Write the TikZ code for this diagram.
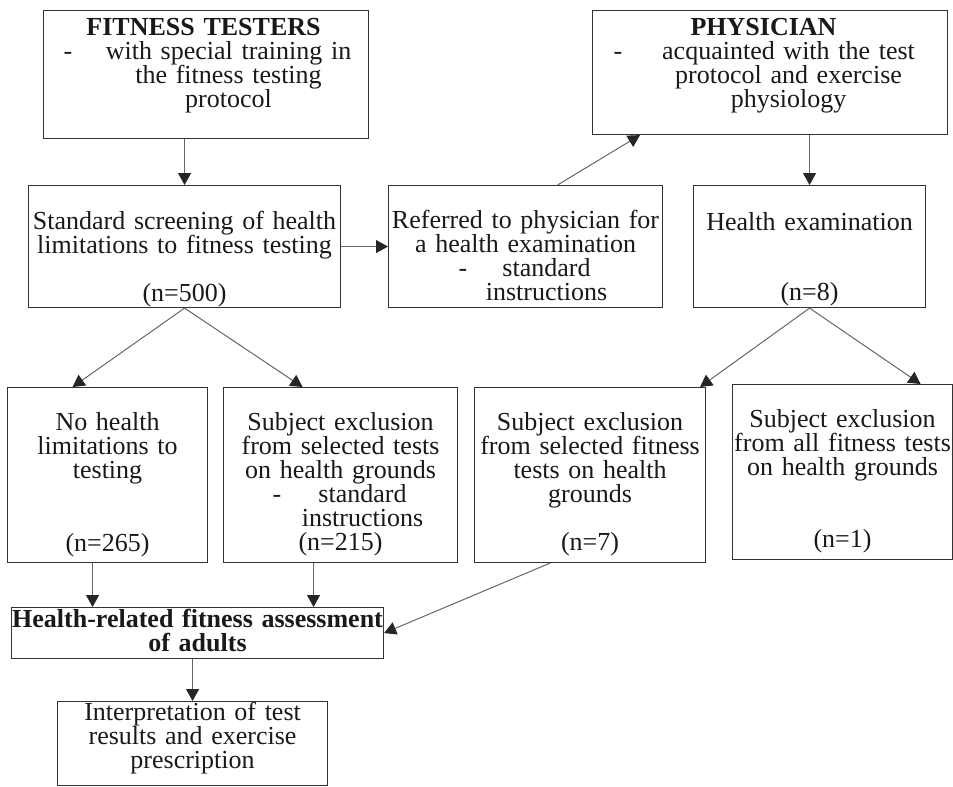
\documentclass[tikz,border=0pt]{standalone}
\usepackage{fontspec}
\setmainfont{Liberation Serif}
\usepackage{tikz}
\usetikzlibrary{arrows.meta, positioning, calc}
% one line of a box, text centred at #1 from the left edge
\newcommand{\textrow}[2]{\makebox[\linewidth][l]{\rlap{\hspace*{#1pt}\makebox[0pt]{#2}}}}
% same, with a dash at #1 from the left edge
\newcommand{\dashrow}[3]{\makebox[\linewidth][l]{\rlap{\hspace*{#1pt}-}\rlap{\hspace*{#2pt}\makebox[0pt]{#3}}}}

\begin{document}
\begin{tikzpicture}[
    x=1pt, y=-1pt,
    box/.style={rectangle, draw=black!80, line width=1.1pt, inner sep=0pt, align=center, anchor=north west, text=black!90,
        font={\fontsize{26}{24}\selectfont\lineskiplimit=-100pt}},
    arrow/.style={-{Triangle[length=12pt, width=13pt, color=black!85]}, draw=black!60, line width=1pt}
]
\useasboundingbox (0,0) rectangle (953,787);

% Nodes
\node (testers) [box, text width=325pt, text height=25pt, text depth=103pt] at (43,10)
    {\textrow{160}{\textbf{FITNESS TESTERS}}\\ \dashrow{20}{185}{with special training in}\\ \textrow{185}{the fitness testing}\\ \textrow{185}{protocol}};
\node (phys) [box, text width=355pt, text height=25pt, text depth=99pt] at (592,10)
    {\textrow{171}{\textbf{PHYSICIAN}}\\ \dashrow{21}{196}{acquainted with the test}\\ \textrow{196}{protocol and exercise}\\ \textrow{196}{physiology}};
\node (screen) [box, text width=312pt, text height=44pt, text depth=78pt] at (28,185)
    {Standard screening of health\\ limitations to fitness testing\\[24pt] (n=500)};
\node (refer) [box, text width=274pt, text height=43pt, text depth=79pt] at (388,185)
    {Referred to physician for\\ a health examination\\ \dashrow{70}{158}{standard}\\ \textrow{158}{instructions}};
\node (exam) [box, text width=232pt, text height=45pt, text depth=77pt] at (693,185)
    {Health examination\\[46pt] (n=8)};
\node (nolim) [box, text width=200pt, text height=43pt, text depth=132pt] at (7,387)
    {No health\\ limitations to\\ testing\\[49pt] (n=265)};
\node (exsel) [box, text width=234pt, text height=43pt, text depth=132pt] at (223,387)
    {Subject exclusion\\ from selected tests\\ on health grounds\\ \dashrow{49}{139}{standard}\\ \textrow{139}{instructions}\\ (n=215)};
\node (exfit) [box, text width=231pt, text height=43pt, text depth=132pt] at (474,387)
    {Subject exclusion\\ from selected fitness\\ tests on health\\ grounds\\[24pt] (n=7)};
\node (exall) [box, text width=220pt, text height=43pt, text depth=132pt] at (732,384)
    {Subject exclusion\\ from all fitness tests\\ on health grounds\\[48pt] (n=1)};
\node (hra) [box, text width=372pt, text height=20pt, text depth=31pt] at (11,607)
    {\textbf{Health-related fitness assessment}\\ \textbf{of adults}};
\node (interp) [box, text width=270pt, text height=19pt, text depth=65pt] at (57,701)
    {Interpretation of test\\ results and exercise\\ prescription};

% Arrows
\draw [arrow] (screen.north |- testers.south) -- (screen.north);
\draw [arrow] (exam.north |- phys.south) -- (exam.north);
\draw [arrow] (screen.east) -- (refer.west);
\draw [arrow] ([xshift=32pt]refer.north) -- ([xshift=48pt]phys.south west);
\draw [arrow] (screen.south) -- ([xshift=-35pt]nolim.north);
\draw [arrow] (screen.south) -- ([xshift=-38pt]exsel.north);
\draw [arrow] (exam.south) -- ([xshift=110pt]exfit.north);
\draw [arrow] (exam.south) -- ([xshift=78pt]exall.north);

% into the assessment box
\draw [arrow] ([xshift=-15pt]nolim.south) -- ([xshift=-15pt]nolim.south |- hra.north);
\draw [arrow] ([xshift=-27pt]exsel.south) -- ([xshift=-27pt]exsel.south |- hra.north);
\draw [arrow] ([xshift=-40pt]exfit.south) -- (hra.east);
\draw [arrow] (interp.north |- hra.south) -- (interp.north);

\end{tikzpicture}
\end{document}
